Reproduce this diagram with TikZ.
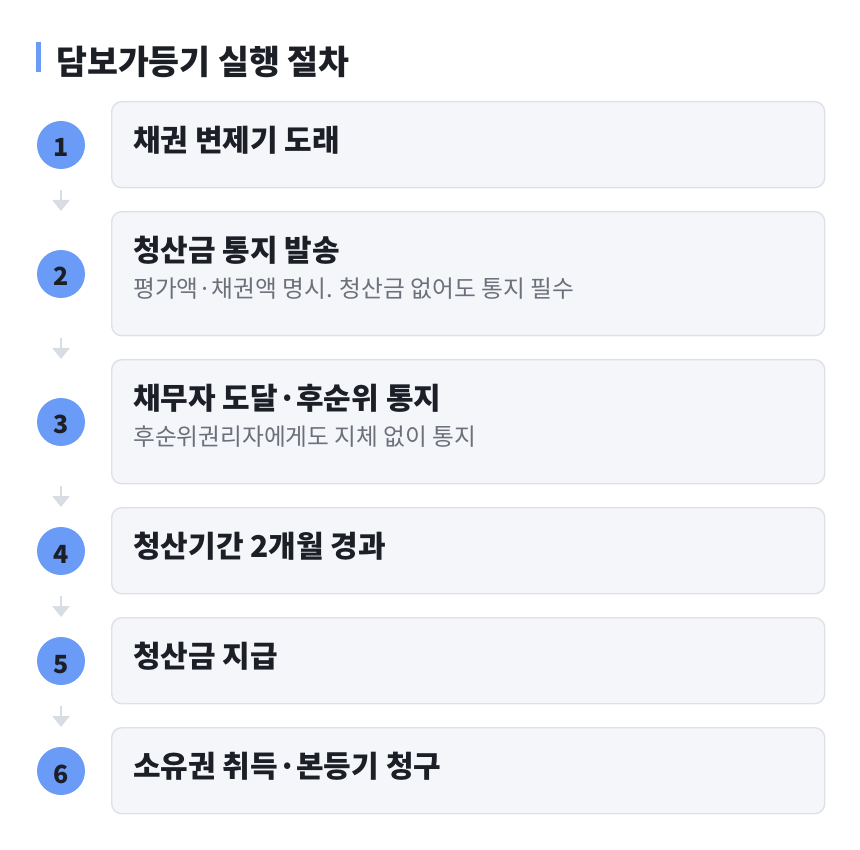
\documentclass[tikz,border=0pt]{standalone}
\usepackage{fontspec}
\setmainfont{Noto Sans CJK KR}
\usetikzlibrary{arrows.meta}
\definecolor{stepBlue}{RGB}{106, 155, 247}
\definecolor{boxFill} {RGB}{245, 246, 250}
\definecolor{boxLine} {RGB}{222, 225, 231}
\definecolor{inkDark} {RGB}{28,  31,  38}
\definecolor{inkGray} {RGB}{107, 112, 122}
\definecolor{arrowGray}{RGB}{216, 220, 227}

\begin{document}
\begin{tikzpicture}[x=1pt, y=-1pt,
    stepcard/.style={draw=boxLine, fill=boxFill, line width=1.4pt, rounded corners=10pt, minimum width=713pt, inner sep=0pt},
    stepnum/.style={circle, fill=stepBlue, minimum size=48pt, inner sep=0pt, text=inkDark, text height=24pt, text depth=0pt, font=\fontsize{25}{30}\selectfont\bfseries},
    headtext/.style={anchor=west, inner sep=0pt, text=inkDark, font=\fontsize{30}{36}\selectfont\bfseries},
    subtext/.style={anchor=west, inner sep=0pt, text=inkGray, font=\fontsize{23.7}{28}\selectfont},
    flow/.style={draw=arrowGray, line width=2.6pt, -{Triangle[width=17pt, length=11pt]}}]
  \useasboundingbox (0,0) rectangle (860,850);

  % title
  \fill[stepBlue] (36,42) rectangle (41,72);
  \node[anchor=west, inner sep=0pt, text=inkDark, font=\fontsize{33.6}{40}\selectfont\bfseries] (title) at (56,62) {담보가등기 실행 절차};

  % cards
  \node[stepcard, minimum height=86pt, anchor=north west]  (b1) at (111,101) {};
  \node[stepcard, minimum height=124pt, anchor=north west] (b2) at (111,211) {};
  \node[stepcard, minimum height=124pt, anchor=north west] (b3) at (111,359) {};
  \node[stepcard, minimum height=86pt, anchor=north west]  (b4) at (111,507) {};
  \node[stepcard, minimum height=86pt, anchor=north west]  (b5) at (111,617) {};
  \node[stepcard, minimum height=86pt, anchor=north west]  (b6) at (111,727) {};

  % numbers
  \node[stepnum] (n1) at (61,145) {1};
  \node[stepnum] (n2) at (61,274) {2};
  \node[stepnum] (n3) at (61,422) {3};
  \node[stepnum] (n4) at (61,551) {4};
  \node[stepnum] (n5) at (61,661) {5};
  \node[stepnum] (n6) at (61,771) {6};

  % texts
  \node[headtext] (h1) at (133,140) {채권 변제기 도래};
  \node[headtext] (h2) at (133,250) {청산금 통지 발송};
  \node[subtext]  (s2) at (133,289) {평가액·채권액 명시. 청산금 없어도 통지 필수};
  \node[headtext] (h3) at (133,398) {채무자 도달·후순위 통지};
  \node[subtext]  (s3) at (133,437) {후순위권리자에게도 지체 없이 통지};
  \node[headtext] (h4) at (133,546) {청산기간 2개월 경과};
  \node[headtext] (h5) at (133,656) {청산금 지급};
  \node[headtext] (h6) at (133,766) {소유권 취득·본등기 청구};

  % arrows
  \draw[flow] ([yshift=-2pt]b1.south -| n1) -- (b2.north -| n2);
  \draw[flow] ([yshift=-2pt]b2.south -| n2) -- (b3.north -| n3);
  \draw[flow] ([yshift=-2pt]b3.south -| n3) -- (b4.north -| n4);
  \draw[flow] ([yshift=-2pt]b4.south -| n4) -- (b5.north -| n5);
  \draw[flow] ([yshift=-2pt]b5.south -| n5) -- (b6.north -| n6);
\end{tikzpicture}
\end{document}
